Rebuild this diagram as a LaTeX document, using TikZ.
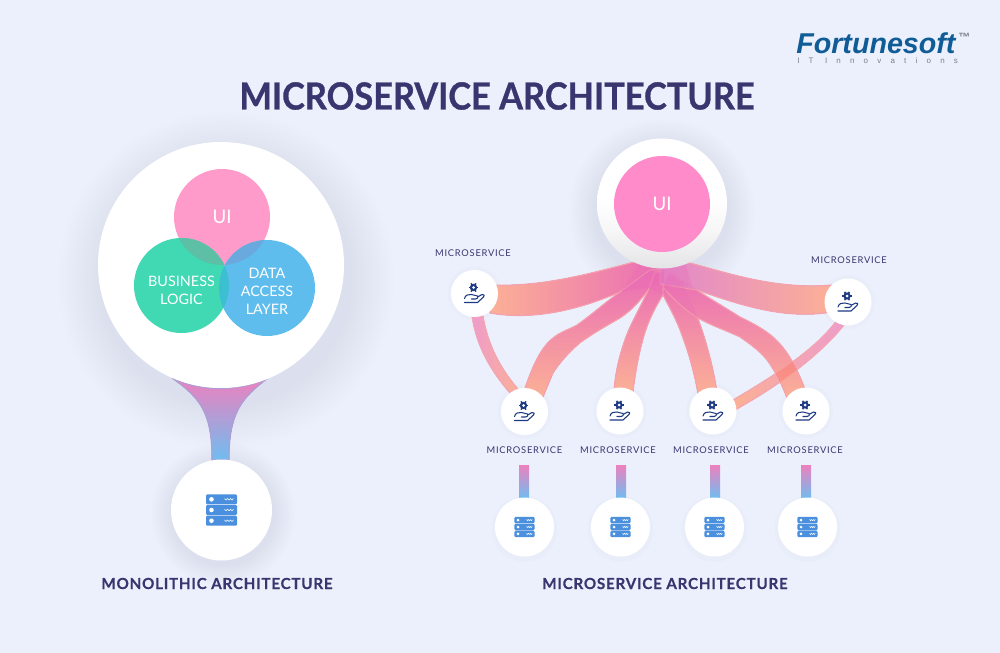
\documentclass[tikz,border=0pt]{standalone}
\usepackage{fontspec}
\setmainfont{Lato}
\newfontfamily\titlef[FakeStretch=0.92,FakeBold=0.8]{Lato}
\newfontfamily\headf[LetterSpace=5,FakeBold=0.3]{Lato}
\newfontfamily\labf[LetterSpace=8]{Lato}
\newfontfamily\discf{Lato}
\newfontfamily\logof{Liberation Sans}
\newfontfamily\logosub[LetterSpace=115]{Liberation Sans}
\definecolor{bg}{HTML}{ECF0FC}
\definecolor{ink}{HTML}{38356F}
\definecolor{shadowc}{HTML}{C9D2EE}
\definecolor{hubp}{HTML}{EA6DB6}
\definecolor{rorange}{HTML}{FBB096}
\definecolor{redge}{HTML}{F6A0AE}
\definecolor{thinp}{HTML}{EE9CCB}
\definecolor{iconb}{HTML}{1E3A84}
\definecolor{srv}{HTML}{4A90DE}
\definecolor{stemp}{HTML}{EE80BE}
\definecolor{stemb}{HTML}{6FBDF0}
\definecolor{uipink}{HTML}{FF9BCB}
\definecolor{uipink2}{HTML}{FF8BCB}
\definecolor{bizg}{HTML}{41D8B4}
\definecolor{datab}{HTML}{5FBDEE}
\definecolor{logoblue}{HTML}{0F5C96}
\definecolor{logogrey}{HTML}{77808A}
\definecolor{ovone}{HTML}{5CBFA6}
\definecolor{ovtwo}{HTML}{6AA9DD}
\definecolor{ovthree}{HTML}{3CBFD0}
\definecolor{lav}{HTML}{E187CC}
\definecolor{rim}{HTML}{E4E4E6}
\definecolor{rimb}{HTML}{F7F7F8}
\pgfdeclareverticalshading{rimshade}{100bp}{color(0bp)=(rim);color(25bp)=(rim);color(40bp)=(rimb);color(52bp)=(white);color(100bp)=(white)}
\def\px{0.75pt}
\tikzset{
  x=0.75pt,y=-0.75pt,
  disc/.style={circle,draw=none,fill=white,inner sep=0pt,minimum size=#1*\px},
  colordisc/.style 2 args={circle,draw=none,fill=#2,inner sep=0pt,minimum size=#1*\px},
  mslabel/.style={inner sep=0pt,text=ink,font=\labf\fontsize{7pt}{8pt}\selectfont},
  heading/.style={inner sep=0pt,text=ink,font=\headf\bfseries\fontsize{11.4pt}{14pt}\selectfont},
  ribbonh/.style 2 args={left color=#1,right color=#2,draw=none},
  ribbonv/.style 2 args={top color=#1,bottom color=#2,draw=none},
  stem/.style={top color=stemp,bottom color=stemb,draw=none},
  edgeline/.style={draw=#1,line width=0.8pt,line join=round},
  hand/.pic={
    \fill[iconb] (-1,-6) circle (3.7);
    \foreach \a in {0,60,...,300}{\draw[iconb,line width=1.1pt] (-1,-6)++(\a:3.2) -- ++(\a:1.6);}
    \fill[white] (-1,-6) circle (1.5);
    \draw[iconb,line width=0.8pt,line cap=round,line join=round]
      (-10,5) .. controls (-9,1) and (-6,1) .. (-3,1) -- (3,2.5) .. controls (4,4) and (3,5.5) .. (1,5.5) -- (-3,5.5)
      (3,3.5) -- (7.5,1) .. controls (10,0.5) and (10.5,2.5) .. (9,3.5) -- (3,9) -- (-10,9);
  },
  server/.pic={
    \foreach \t in {-1,0,1}{
      \fill[srv,rounded corners=0.9pt] (-15.5,{\t*10.7-5}) rectangle (15.5,{\t*10.7+5});
      \fill[white] (-10,{\t*10.7}) circle (2.3);
      \draw[white,line width=0.4pt] (3,{\t*10.7-.8}) -- (4.5,{\t*10.7+.8}) -- (6,{\t*10.7-.8}) -- (7.5,{\t*10.7+.8}) -- (9,{\t*10.7-.8}) -- (10.5,{\t*10.7+.8}) -- (12,{\t*10.7-.8});
    }
  },
}
\newcommand{\softshadow}[4]{% x y radius spread
  \foreach \i in {1,...,16}{
    \fill[shadowc,opacity=.024] (#1,#2) circle ({#3+#4*\i/16});
  }
}
\newcommand{\overlap}[3][hubp]{\begin{scope}\clip #2;\fill[#1,opacity=.3] #3;\end{scope}}
\def\rA{(490,285) .. controls (540,287) and (585,275) .. (634,262)
  -- (664,262) -- (664,286) -- (620,292)
  .. controls (590,305) and (540,322) .. (490,313) -- cycle}
\def\rB{(664,282) -- (650,288) .. controls (640,300) and (635,308) .. (620,318)
  .. controls (608,325) and (597,331) .. (587,338)
  .. controls (575,345) and (560,362) .. (553,373) -- (543,397) -- (525,388)
  .. controls (532,368) and (540,348) .. (553,338)
  .. controls (560,332) and (570,329) .. (577,325)
  .. controls (590,316) and (608,300) .. (620,292) -- (650,270) -- (664,270) -- cycle}
\def\rC{(664,272) -- (663,295) .. controls (652,312) and (645,330) .. (642,343)
  .. controls (638,358) and (635,375) .. (633,392)
  -- (614,392) .. controls (615,370) and (622,345) .. (630,327)
  .. controls (637,312) and (645,298) .. (650,286) -- (655,272) -- cycle}
\def\rD{(664,272) -- (682,283) .. controls (692,300) and (698,318) .. (703,333)
  .. controls (709,352) and (714,372) .. (717,392)
  -- (698,394) .. controls (694,370) and (687,348) .. (680,330)
  .. controls (675,317) and (668,305) .. (663,295) -- cycle}
\def\rE{(670,272) -- (697,290) .. controls (712,300) and (726,308) .. (740,317)
  .. controls (753,323) and (765,330) .. (773,337)
  .. controls (788,350) and (798,370) .. (806,392)
  -- (787,398) .. controls (782,385) and (776,372) .. (767,360)
  .. controls (760,351) and (750,344) .. (740,337)
  .. controls (725,330) and (710,325) .. (698,318)
  .. controls (685,310) and (672,298) .. (663,287) -- cycle}
\def\rF{(660,262) -- (690,263) .. controls (725,272) and (775,290) .. (832,285)
  -- (832,312) .. controls (785,320) and (740,305) .. (697,290) -- (660,284) -- cycle}
\def\rT{(733,400) .. controls (775,375) and (815,350) .. (837,320)
  -- (844,325) .. controls (820,355) and (780,385) .. (735,410) -- cycle}
\def\rL{(472,316) .. controls (476,345) and (490,370) .. (510,393)
  -- (518,389) .. controls (500,368) and (488,345) .. (483,316) -- cycle}
\def\rM{(172,378) .. controls (200,398) and (212,412) .. (212,460) -- (229,460)
  .. controls (229,412) and (242,398) .. (268,378)
  .. controls (240,392) and (200,392) .. cycle}
\begin{document}
\begin{tikzpicture}
\useasboundingbox (0,0) rectangle (1000,653);
\fill[bg] (0,0) rectangle (1000,653);

% title and logo
\node[inner sep=0pt,text=ink,font=\titlef\bfseries\fontsize{28pt}{32pt}\selectfont] (title) at (497,96) {MICROSERVICE ARCHITECTURE};
\node[inner sep=0pt,anchor=west,text=logoblue,font=\logof\bfseries\itshape\fontsize{21.5pt}{24pt}\selectfont] (logo) at (796,43.5) {Fortunesoft};
\node[inner sep=0pt,anchor=west,text=logogrey,font=\logof\bfseries\fontsize{9pt}{10pt}\selectfont] (tm) at (958,37) {™};
\node[inner sep=0pt,anchor=west,text=logogrey,font=\logosub\fontsize{6pt}{7pt}\selectfont] (logos) at (797,61) {IT Innovations};

% ---------- monolith
\softshadow{226}{280}{123}{45}
\softshadow{223}{514}{50}{22}
\fill[stem] \rM;
\draw[edgeline=stemp!50!stemb] \rM;
\node[disc=246] (mono) at (221,265) {};
\node[disc=101] (db) at (221.5,510) {};
\pic at (db) {server};

\node[colordisc={96}{uipink}] (ui1) at (222,217) {};
\node[colordisc={95}{bizg}] (biz) at (181.5,285.5) {};
\node[colordisc={96}{datab}] (data) at (267,288) {};
\begin{scope}\clip (222,217) circle (48);\fill[ovone] (181.5,285.5) circle (47.5);\fill[ovtwo] (267,288) circle (48);\end{scope}
\begin{scope}\clip (181.5,285.5) circle (47.5);\fill[ovthree] (267,288) circle (48);\end{scope}
\node[inner sep=0pt,text=white,font=\discf\fontsize{14pt}{16pt}\selectfont] at (ui1) {UI};
\node[inner sep=0pt,text=white,align=center,font=\discf\fontsize{10.8pt}{13.5pt}\selectfont] at (181.5,290) {BUSINESS\\LOGIC};
\node[inner sep=0pt,text=white,align=center,font=\discf\fontsize{10.8pt}{13.5pt}\selectfont] at (267,291) {DATA\\ACCESS\\LAYER};
\node[heading] (h1) at (217,583.5) {MONOLITHIC ARCHITECTURE};
\node[heading] (h2) at (665,583.5) {MICROSERVICE ARCHITECTURE};

% ---------- microservices nodes positions
\coordinate (m1) at (474.5,293.5);
\coordinate (m2) at (524.5,411.5);
\coordinate (m3) at (620,411);
\coordinate (m4) at (713,411);
\coordinate (m5) at (806,411);
\coordinate (m6) at (848,302);

\softshadow{662}{212}{65}{28}
\foreach \c in {m1,m2,m3,m4,m5,m6}{\fill[shadowc,opacity=.08] (\c) circle (27);}

% thin links
\fill[left color=thinp,right color=rorange,draw=none] \rL;
\draw[edgeline=thinp!50!rorange] \rL;
\fill[left color=rorange,right color=thinp,draw=none] \rT;
\draw[edgeline=thinp!50!rorange] \rT;

% ribbons
\fill[ribbonh={rorange}{hubp}] \rA; \draw[edgeline=redge] \rA;
\fill[ribbonv={hubp}{rorange}] \rB; \draw[edgeline=redge] \rB;
\fill[ribbonv={hubp}{rorange}] \rC; \draw[edgeline=redge] \rC;
\fill[ribbonv={hubp}{rorange}] \rD; \draw[edgeline=redge] \rD;
\fill[ribbonv={hubp}{rorange}] \rE; \draw[edgeline=redge] \rE;
\fill[ribbonh={lav}{rorange}] \rF; \draw[edgeline=redge] \rF;
\overlap{\rA}{\rB}
\overlap{\rB}{\rC}
\overlap{\rC}{\rD}
\overlap{\rD}{\rE}
\overlap{\rE}{\rF}
\overlap[rorange!55!red]{\rE}{\rT}
\fill[hubp,opacity=.3] (640,262) -- (685,262) -- (692,286) -- (672,284) -- (663,295) -- (650,288) -- (622,291) -- cycle;

% UI big
\node[circle,inner sep=0pt,minimum size=130*\px,shading=rimshade,draw=none] (uio) at (662,203.5) {};
\node[colordisc={96}{uipink2}] (ui2) at (662,204) {};
\node[inner sep=0pt,text=white,font=\discf\fontsize{14pt}{16pt}\selectfont] at (ui2) {UI};

% microservice discs
\foreach \c in {m1,m2,m3,m4,m5,m6}{
  \node[disc=47] (\c n) at (\c) {};
  \pic at (\c) {hand};
}
\node[mslabel] (l1) at (473,253) {MICROSERVICE};
\node[mslabel] (l6) at (849,260) {MICROSERVICE};
\node[mslabel] (l2) at (524.5,450) {MICROSERVICE};
\node[mslabel] (l3) at (618,450) {MICROSERVICE};
\node[mslabel] (l4) at (711,450) {MICROSERVICE};
\node[mslabel] (l5) at (805,450) {MICROSERVICE};

% bottom servers
\foreach \n/\x/\sx in {a/524.5/524,b/620.5/621,c/714.5/715,d/807.5/806}{
  \fill[shadowc,opacity=.08] (\x,529) circle (33);
  \fill[stem] (\sx-5,465) rectangle (\sx+5,498);
  \node[disc=59] (s\n) at (\x,527) {};
  \pic[scale=0.65] at (s\n) {server};
}
\end{tikzpicture}
\end{document}
